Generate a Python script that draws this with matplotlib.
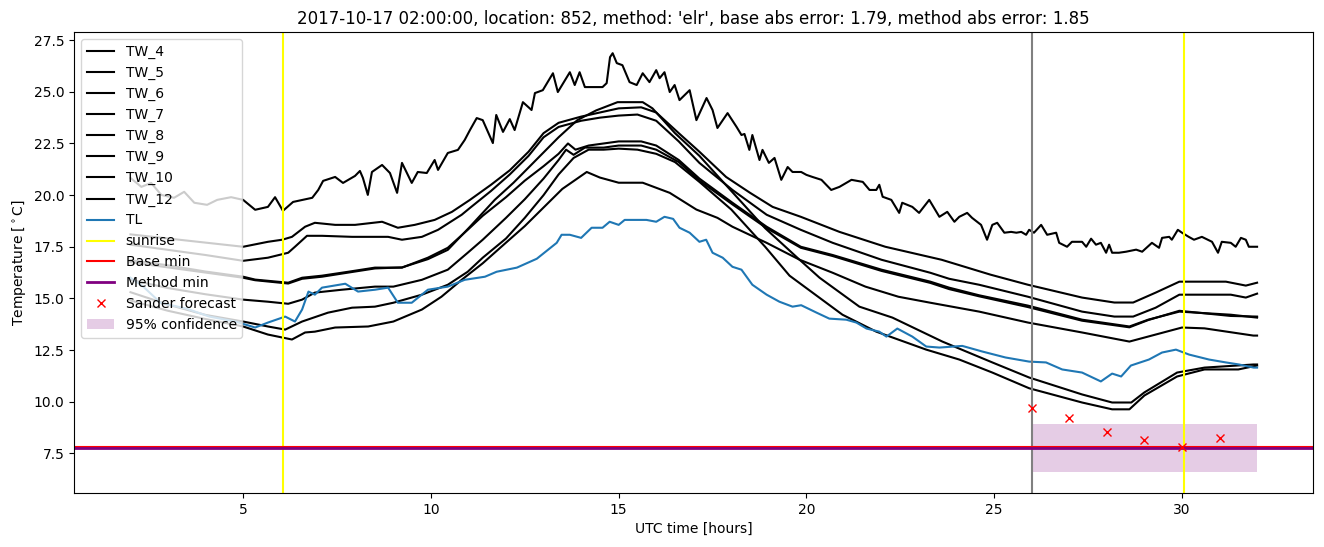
import matplotlib
matplotlib.use("Agg")
import matplotlib.pyplot as plt

# (hour, temperature) pairs
tw_4 = [(2.0, 20.83), (2.29, 20.4), (2.55, 20.59), (2.82, 20.01), (3.16, 19.87), (3.43, 20.16),
        (3.7, 19.63), (4.04, 19.53), (4.31, 19.77), (4.68, 19.9), (5.0, 19.77), (5.32, 19.29),
        (5.66, 19.43), (5.85, 19.9), (6.06, 19.24), (6.33, 19.67), (6.84, 19.87), (7.0, 20.25),
        (7.13, 20.69), (7.45, 20.88), (7.66, 20.59), (7.98, 20.93), (8.11, 21.17), (8.19, 20.83),
        (8.32, 20.01), (8.43, 21.12), (8.7, 21.46), (8.91, 21.07), (9.1, 20.11), (9.23, 21.56),
        (9.49, 20.59), (9.65, 21.12), (9.89, 21.07), (10.1, 21.7), (10.19, 21.22), (10.45, 22.04),
        (10.72, 22.19), (10.9, 22.67), (11.04, 23.15), (11.22, 23.73), (11.38, 23.63), (11.65, 22.52),
        (11.74, 23.88), (11.92, 23.06), (12.1, 23.68), (12.23, 23.15), (12.45, 24.5), (12.68, 24.12),
        (12.77, 24.94), (12.98, 25.08), (13.11, 25.47), (13.25, 25.9), (13.38, 24.99), (13.7, 25.95),
        (13.83, 25.33), (13.96, 25.95), (14.1, 25.23), (14.57, 25.23), (14.68, 25.42), (14.77, 26.68),
        (14.84, 26.87), (14.95, 26.39), (15.1, 26.29), (15.29, 25.47), (15.48, 25.33), (15.64, 25.9),
        (15.82, 25.47), (16.0, 26.05), (16.09, 25.66), (16.22, 25.95), (16.36, 24.99), (16.49, 25.33),
        (16.62, 24.6), (16.89, 25.08), (17.07, 23.63), (17.34, 24.7), (17.5, 24.12), (17.63, 23.25),
        (17.9, 23.97), (18.14, 23.3), (18.27, 22.91), (18.35, 22.96), (18.48, 22.19), (18.56, 22.91),
        (18.75, 21.7), (18.83, 22.19), (19.0, 21.56), (19.15, 21.8), (19.33, 20.74), (19.5, 21.36),
        (19.63, 21.12), (19.86, 21.12), (20.0, 20.98), (20.16, 20.88), (20.4, 20.74), (20.66, 20.25),
        (20.88, 20.4), (21.2, 20.74), (21.5, 20.64), (21.68, 20.25), (21.86, 20.25), (21.94, 20.5),
        (22.03, 19.92), (22.26, 19.77), (22.47, 19.14), (22.55, 19.63), (22.82, 19.43), (23.0, 19.14),
        (23.27, 19.77), (23.54, 18.95), (23.75, 19.19), (23.94, 18.71), (24.07, 18.95), (24.28, 19.14),
        (24.41, 18.9), (24.65, 18.56), (24.81, 17.84), (24.95, 18.56), (25.08, 18.66), (25.27, 18.18),
        (25.45, 18.22), (25.59, 18.18), (25.72, 18.22), (25.85, 18.08), (25.93, 18.32), (26.06, 18.18),
        (26.25, 18.56), (26.41, 18.08), (26.65, 18.18), (26.73, 17.69), (26.94, 17.5), (27.07, 17.74),
        (27.34, 17.74), (27.45, 17.5), (27.58, 17.89), (27.71, 17.6), (27.84, 17.69), (27.98, 17.21),
        (28.06, 17.6), (28.14, 17.21), (28.32, 17.21), (28.51, 17.26), (28.78, 17.36), (28.94, 17.26),
        (29.2, 17.69), (29.39, 17.45), (29.47, 17.93), (29.66, 17.98), (29.73, 17.84), (29.89, 18.32),
        (30.0, 18.18), (30.18, 17.98), (30.32, 17.84), (30.53, 17.98), (30.8, 17.74), (30.96, 17.21),
        (31.06, 17.74), (31.3, 17.69), (31.43, 17.5), (31.57, 17.93), (31.7, 17.84), (31.78, 17.5),
        (32.0, 17.5)]

tw_5 = [(2.0, 18.1), (3.0, 17.9), (4.0, 17.7), (5.0, 17.5), (5.66, 17.74), (6.04, 17.84), (6.3, 17.98),
        (6.65, 18.47), (6.91, 18.66), (7.45, 18.56), (7.98, 18.56), (8.7, 18.71), (9.12, 18.42),
        (9.57, 18.56), (10.1, 18.8), (10.56, 19.19), (11.04, 19.77), (11.6, 20.5), (12.1, 21.2),
        (12.6, 22.1), (13.0, 23.0), (13.4, 23.5), (14.0, 23.8), (14.5, 24.0), (15.0, 24.2),
        (15.6, 24.25), (16.0, 24.0), (16.6, 23.0), (17.15, 22.1), (17.86, 20.88), (18.5, 20.11),
        (19.1, 19.43), (19.85, 18.95), (20.88, 18.22), (22.1, 17.5), (23.6, 16.87), (24.9, 16.15),
        (25.9, 15.66), (27.34, 15.04), (28.2, 14.8), (28.7, 14.8), (29.3, 15.28), (29.93, 15.81),
        (31.17, 15.81), (31.7, 15.62), (32.0, 15.76)]

tw_6 = [(2.0, 17.6), (3.0, 17.35), (4.0, 17.1), (5.0, 16.82), (5.66, 16.97), (6.2, 17.21), (6.38, 17.5),
        (6.7, 18.03), (7.1, 18.03), (7.9, 17.98), (8.86, 17.98), (9.23, 17.84), (9.76, 17.98),
        (10.19, 18.32), (10.82, 19.05), (11.04, 19.38), (11.6, 20.2), (12.1, 21.0), (12.6, 21.9),
        (13.0, 22.8), (13.4, 23.3), (14.0, 23.6), (14.5, 23.75), (15.0, 23.85), (15.5, 23.9),
        (16.0, 23.6), (16.6, 22.6), (17.15, 21.56), (18.03, 20.25), (18.94, 19.05), (19.85, 18.32),
        (20.7, 17.69), (22.0, 16.87), (23.3, 16.24), (23.8, 15.95), (24.6, 15.66), (25.9, 15.08),
        (27.34, 14.36), (28.2, 14.12), (28.7, 14.12), (29.3, 14.55), (29.93, 15.18), (31.3, 15.18),
        (31.7, 15.04), (32.0, 15.23)]

tw_7 = [(2.0, 16.85), (3.0, 16.6), (4.0, 16.3), (5.0, 16.05), (5.32, 15.91), (6.2, 15.76), (6.57, 16.0),
        (7.1, 16.1), (7.8, 16.29), (8.51, 16.49), (9.23, 16.49), (9.92, 16.97), (10.45, 17.45),
        (10.98, 18.32), (11.38, 19.0), (12.0, 19.9), (12.5, 20.7), (13.0, 21.4), (13.4, 22.0),
        (13.65, 22.5), (13.85, 22.2), (14.2, 22.4), (14.6, 22.5), (15.0, 22.6), (15.6, 22.6),
        (16.0, 22.4), (16.6, 21.7), (17.15, 20.8), (18.03, 19.63), (18.94, 18.47), (19.85, 17.5),
        (20.7, 17.1), (22.0, 16.39), (23.3, 15.81), (23.8, 15.52), (24.6, 15.15), (25.9, 14.65),
        (27.34, 13.97), (28.6, 13.64), (29.1, 13.97), (29.93, 14.36), (31.3, 14.21), (32.0, 14.07)]

tw_8 = [(2.0, 16.75), (3.0, 16.5), (4.0, 16.25), (5.0, 16.0), (5.32, 15.88), (6.2, 15.72), (6.57, 15.95),
        (7.1, 16.05), (7.8, 16.25), (8.51, 16.45), (9.23, 16.5), (9.92, 16.9), (10.45, 17.35),
        (11.04, 18.47), (11.7, 19.77), (12.2, 20.6), (12.8, 21.7), (13.4, 22.8), (13.9, 23.63),
        (14.4, 24.1), (14.97, 24.5), (15.64, 24.5), (15.9, 24.2), (16.5, 23.0), (17.15, 21.9),
        (18.0, 20.2), (18.9, 18.4), (19.8, 16.9), (20.35, 16.0), (21.41, 14.6), (22.29, 14.07),
        (23.62, 12.91), (24.95, 11.9), (25.93, 11.17), (27.34, 10.35), (28.14, 9.96), (28.65, 9.96),
        (29.0, 10.45), (29.87, 11.41), (30.6, 11.65), (31.9, 11.8), (32.0, 11.8)]

tw_9 = [(2.0, 15.9), (3.0, 15.5), (4.0, 15.2), (5.0, 14.94), (5.66, 14.84), (6.2, 14.74), (6.57, 14.94),
        (6.91, 15.28), (7.63, 15.42), (8.51, 15.57), (9.0, 15.57), (9.76, 15.9), (10.45, 16.39),
        (10.98, 17.21), (11.38, 17.84), (12.0, 18.9), (12.5, 19.8), (13.0, 20.8), (13.4, 21.7),
        (13.6, 22.2), (13.8, 21.95), (14.1, 22.3), (14.6, 22.3), (15.0, 22.4), (15.6, 22.4),
        (16.0, 22.2), (16.6, 21.6), (17.15, 20.7), (18.03, 19.55), (18.94, 18.4), (19.85, 17.45),
        (20.7, 17.05), (22.0, 16.33), (23.3, 15.75), (23.8, 15.45), (24.6, 15.1), (25.9, 14.58),
        (27.34, 13.92), (28.6, 13.6), (29.1, 13.95), (29.93, 14.4), (31.3, 14.15), (32.0, 14.12)]

tw_10 = [(2.0, 15.3), (3.0, 14.7), (4.0, 14.2), (5.0, 13.88), (5.66, 13.64), (6.12, 13.49), (6.57, 13.88),
         (7.26, 14.31), (7.9, 14.55), (8.51, 14.6), (9.0, 14.79), (9.76, 15.18), (10.45, 15.66),
         (10.98, 16.29), (11.38, 16.97), (12.0, 17.9), (12.5, 18.9), (13.0, 20.0), (13.4, 21.0),
         (13.8, 21.8), (14.2, 22.2), (14.6, 22.2), (15.0, 22.25), (15.5, 22.2), (16.0, 22.0),
         (16.5, 21.6), (17.15, 20.64), (18.0, 19.3), (18.9, 17.5), (19.55, 16.1), (20.96, 14.21),
         (21.86, 13.39), (23.19, 12.52), (24.07, 12.04), (24.95, 11.41), (25.93, 10.65), (27.34, 9.96),
         (28.14, 9.63), (28.6, 9.63), (29.0, 10.3), (29.87, 11.22), (30.6, 11.56), (31.5, 11.56),
         (32.0, 11.75)]

tw_12 = [(2.0, 14.9), (3.0, 14.4), (4.0, 14.0), (5.0, 13.64), (5.66, 13.25), (6.3, 13.01), (6.65, 13.35),
         (6.91, 13.39), (7.45, 13.59), (8.33, 13.64), (9.0, 13.88), (9.76, 14.46), (10.28, 15.08),
         (10.82, 15.9), (11.38, 16.7), (12.0, 17.7), (12.5, 18.5), (13.0, 19.4), (13.5, 20.3),
         (14.15, 21.12), (14.5, 20.85), (15.0, 20.6), (15.64, 20.6), (16.36, 20.11), (17.07, 19.3),
         (17.63, 18.9), (18.03, 18.47), (18.94, 17.69), (19.82, 16.87), (20.7, 16.24), (21.57, 15.57),
         (22.45, 15.08), (23.3, 14.79), (24.6, 14.36), (25.9, 13.83), (27.34, 13.35), (28.6, 12.91),
         (29.3, 13.25), (30.0, 13.59), (30.6, 13.55), (31.9, 13.2), (32.0, 13.2)]

tl = [(2.0, 16.0), (2.34, 15.57), (2.8, 14.79), (3.5, 14.5), (4.1, 14.12), (4.79, 13.88), (5.32, 13.59),
      (5.66, 13.83), (6.12, 14.12), (6.38, 13.88), (6.57, 14.46), (6.74, 15.33), (6.91, 15.18),
      (7.1, 15.52), (7.72, 15.71), (8.06, 15.33), (8.51, 15.42), (8.86, 15.52), (9.12, 14.79),
      (9.49, 14.79), (9.92, 15.42), (10.45, 15.57), (10.9, 15.9), (11.44, 16.05), (11.75, 16.29),
      (12.29, 16.49), (12.82, 16.92), (13.35, 17.69), (13.48, 18.08), (13.7, 18.08), (14.0, 17.93),
      (14.28, 18.42), (14.57, 18.42), (14.76, 18.71), (15.0, 18.56), (15.16, 18.8), (15.38, 18.8),
      (15.74, 18.8), (16.0, 18.71), (16.22, 18.95), (16.45, 18.85), (16.62, 18.42), (16.89, 18.18),
      (17.15, 17.74), (17.33, 17.84), (17.5, 17.21), (17.77, 16.97), (18.03, 16.53), (18.27, 16.39),
      (18.56, 15.66), (18.94, 15.18), (19.28, 14.84), (19.63, 14.6), (19.86, 14.67), (20.27, 14.31),
      (20.61, 14.02), (21.06, 13.97), (21.33, 13.83), (21.6, 13.54), (21.94, 13.39), (22.13, 13.15),
      (22.42, 13.54), (22.82, 13.15), (23.19, 12.67), (23.54, 12.62), (24.15, 12.7), (24.68, 12.43),
      (25.3, 12.14), (25.93, 11.94), (26.38, 11.9), (26.81, 11.56), (27.34, 11.41), (27.84, 10.98),
      (28.14, 11.36), (28.38, 11.22), (28.64, 11.75), (29.12, 12.04), (29.47, 12.38), (29.84, 12.52),
      (30.19, 12.28), (30.72, 12.04), (31.17, 11.9), (31.52, 11.8), (31.91, 11.65), (32.0, 11.65)]

tw_series = {"TW_4": tw_4, "TW_5": tw_5, "TW_6": tw_6, "TW_7": tw_7,
             "TW_8": tw_8, "TW_9": tw_9, "TW_10": tw_10, "TW_12": tw_12}

sunrise_hours = [6.05, 30.05]
forecast_start = 26.0
base_min = 7.83
method_min = 7.77

sander_hours = [26, 27, 28, 29, 30, 31]
sander_temp = [9.67, 9.19, 8.51, 8.13, 7.79, 8.22]

conf_hours = [26, 32]
conf_low = [6.6, 6.6]
conf_high = [8.9, 8.9]

title = ("2017-10-17 02:00:00, location: 852, method: 'elr', "
         "base abs error: 1.79, method abs error: 1.85")

fig, ax = plt.subplots(figsize=(13.24, 5.47), dpi=100)
fig.subplots_adjust(left=0.056, right=0.992, top=0.941, bottom=0.099)

for name, pts in tw_series.items():
    xs, ys = zip(*pts)
    ax.plot(xs, ys, color="black", label=name)

xs, ys = zip(*tl)
ax.plot(xs, ys, color="tab:blue", label="TL")

for i, h in enumerate(sunrise_hours):
    ax.axvline(h, color="yellow", label="sunrise" if i == 0 else None)
ax.axvline(forecast_start, color="grey")

ax.axhline(base_min, color="red", label="Base min")
ax.axhline(method_min, color="purple", lw=2, label="Method min")
ax.plot(sander_hours, sander_temp, "rx", label="Sander forecast")
ax.fill_between(conf_hours, conf_low, conf_high, color="purple", alpha=0.2,
                lw=0, label="95% confidence")

ax.set_title(title)
ax.set_xlabel("UTC time [hours]")
ax.set_ylabel(r"Temperature [$^\circ$C]")
ax.legend(loc="upper left")

plt.savefig("out.png", dpi=100)
